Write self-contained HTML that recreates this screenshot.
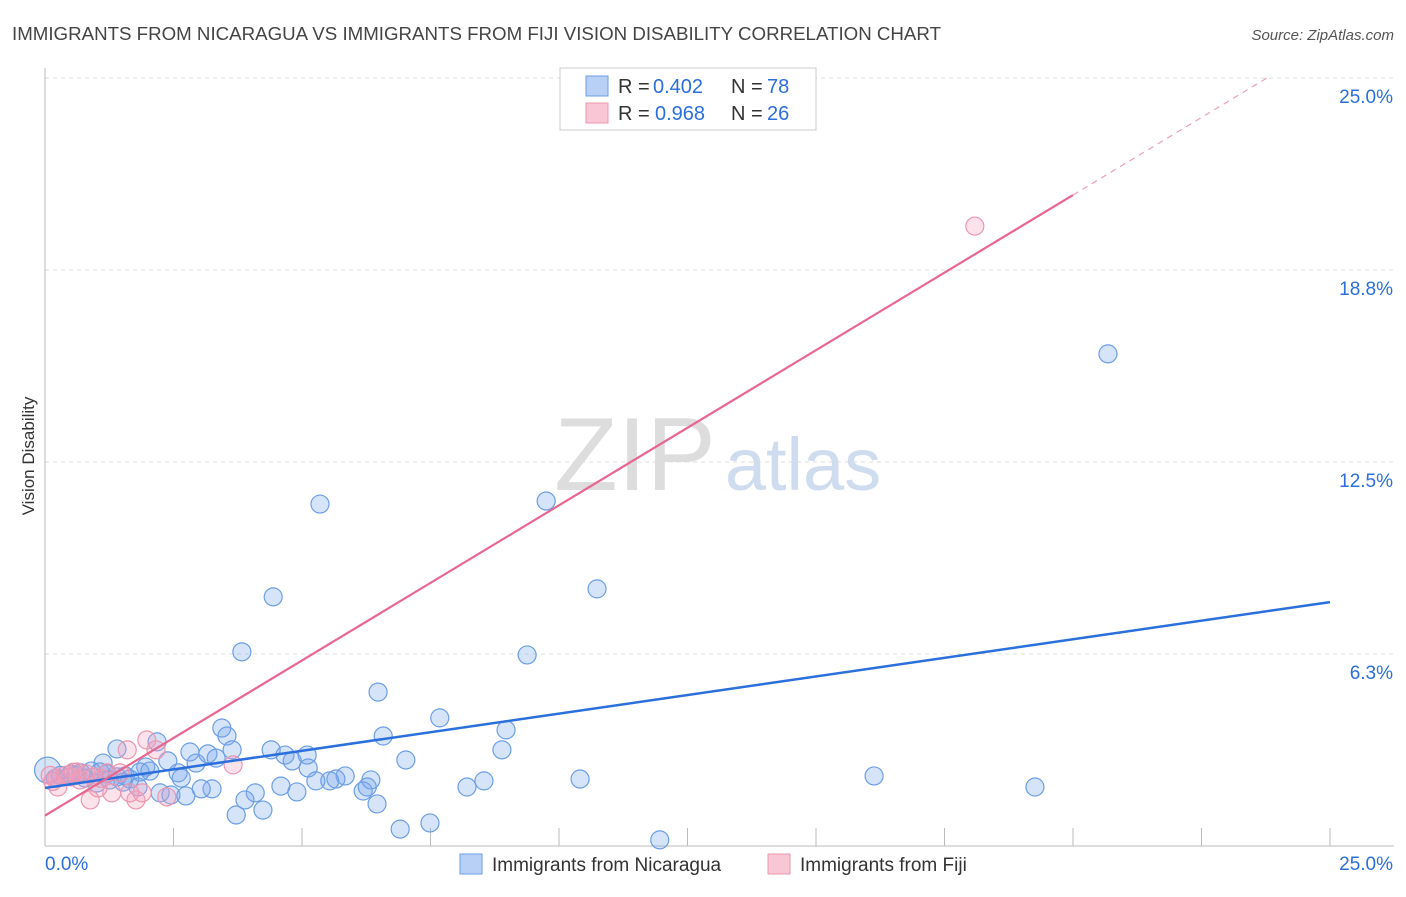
<!DOCTYPE html>
<html><head><meta charset="utf-8"><style>
body{margin:0;background:#fff;font-family:"Liberation Sans",sans-serif}
svg text{font-family:"Liberation Sans",sans-serif}
</style></head><body>
<svg id="chart" width="1406" height="892" xmlns="http://www.w3.org/2000/svg">
<text x="12" y="40" font-size="18" fill="#444" textLength="929" lengthAdjust="spacingAndGlyphs">IMMIGRANTS FROM NICARAGUA VS IMMIGRANTS FROM FIJI VISION DISABILITY CORRELATION CHART</text>
<text x="1394" y="40" font-size="15" fill="#555" text-anchor="end" font-style="italic">Source: ZipAtlas.com</text>
<text transform="translate(34,456) rotate(-90)" font-size="17" fill="#333" text-anchor="middle">Vision Disability</text>
<g>
<text x="635" y="490" font-size="104" fill="#ddd" font-family="Liberation Serif,serif" text-anchor="middle">ZIP</text>
<text x="803" y="490" font-size="74" fill="#cfdcf0" text-anchor="middle">atlas</text>
</g>
<g id="grid"></g><g id="axes"></g><g id="pts"></g><g id="lines"></g>
<g>
<rect x="560" y="68" width="256" height="62" fill="#fff" stroke="#ccc"/>
<rect x="586" y="76" width="22" height="20" fill="#b8d0f5" stroke="#6c9ee4"/>
<text x="618" y="93" font-size="20" fill="#333">R =</text><text x="653" y="93" font-size="20" fill="#2a6fdb">0.402</text>
<text x="731" y="93" font-size="20" fill="#333">N =</text><text x="767" y="93" font-size="20" fill="#2a6fdb">78</text>
<rect x="586" y="103" width="22" height="20" fill="#f9c6d5" stroke="#ec97b0"/>
<text x="618" y="120" font-size="20" fill="#333">R =</text><text x="655" y="120" font-size="20" fill="#2a6fdb">0.968</text>
<text x="731" y="120" font-size="20" fill="#333">N =</text><text x="767" y="120" font-size="20" fill="#2a6fdb">26</text>
</g>
<g>
<rect x="460" y="854" width="22" height="20" fill="#b8d0f5" stroke="#6c9ee4"/>
<text x="492" y="871" font-size="19" fill="#333">Immigrants from Nicaragua</text>
<rect x="768" y="854" width="22" height="20" fill="#f9c6d5" stroke="#ec97b0"/>
<text x="800" y="871" font-size="19" fill="#333">Immigrants from Fiji</text>
</g>
</svg>
<script>
const yTicks=[6.25,12.5,18.75,25];
const yTickLabels=["6.3%","12.5%","18.8%","25.0%"];
const xTickLabels=["0.0%","25.0%"];
const blueX=[5.35,9.75,4.44,10.74,3.83,9.38,20.68,6.48,7.68,3.44,6.58,8.97,3.54,2.18,1.40,8.89,4.40,3.64,2.82,3.17,4.67,5.10,3.33,2.39,2.94,4.81,7.02,1.13,1.96,5.12,2.59,2.65,5.84,5.66,5.54,5.27,6.34,8.54,10.41,16.13,4.59,8.21,6.19,6.27,19.26,4.09,3.25,3.04,2.24,2.45,2.74,4.90,3.89,6.46,4.24,3.72,6.91,7.49,11.96,0.3,0.5,0.7,0.9,1.07,1.26,1.56,1.65,1.85,2.04,1.01,1.52,1.81,0.78,0.2,0.6,1.2,1.4,0.05];
const blueY=[11.13,11.23,8.11,8.37,6.32,6.22,16.02,5.01,4.17,3.84,3.58,3.78,3.58,3.39,3.16,3.13,3.13,3.13,3.06,3.0,2.96,2.96,2.86,2.77,2.70,2.77,2.80,2.70,2.57,2.54,2.38,2.21,2.28,2.18,2.12,2.12,2.15,2.12,2.18,2.28,1.95,1.92,1.79,1.92,1.92,1.73,1.86,1.86,1.73,1.66,1.63,1.76,1.50,1.37,1.17,1.01,0.55,0.75,0.20,2.3,2.34,2.38,2.44,2.41,2.15,2.28,2.18,2.41,2.44,2.05,2.08,1.92,2.21,2.2,2.3,2.35,2.25,2.47];
const pinkX=[18.09,1.98,1.60,2.16,3.66,0.88,2.37,1.77,1.30,1.89,0.49,0.23,0.62,1.21,1.46,1.65,1.03,0.25,0.68,0.1,0.4,1.1,0.8,0.15,0.55,0.95];
const pinkY=[20.18,3.45,3.13,3.13,2.64,1.50,1.60,1.50,1.73,1.73,2.25,2.21,2.41,2.38,2.38,1.73,1.89,1.92,2.15,2.3,2.3,2.2,2.35,2.1,2.4,2.25];
const blueLine=[1.89,7.94];
const pinkLine=[0.99,1.01];
const NS="http://www.w3.org/2000/svg";
const X=v=>45+v*1285/25, Y=v=>846-v*768/25;
function mk(t,a,p){const e=document.createElementNS(NS,t);for(const k in a)e.setAttribute(k,a[k]);p.appendChild(e);return e;}
const grid=document.getElementById('grid'),axes=document.getElementById('axes'),pts=document.getElementById('pts'),lines=document.getElementById('lines');
yTicks.forEach((t,i)=>{
 const l=mk('line',{x1:45,x2:1394,y1:Y(t),y2:Y(t),stroke:'#ddd','stroke-dasharray':'4,4'},grid);
 
 
 const tx=mk('text',{x:1393,y:Y(t)+25,'font-size':19,fill:'#2a6fdb','text-anchor':'end'},grid);
 tx.textContent=yTickLabels[i];
 
 
});
const ya=mk('line',{x1:45,x2:45,y1:68,y2:846,stroke:'#bbb'},axes);


const xa=mk('line',{x1:45,x2:1394,y1:846,y2:846,stroke:'#bbb'},axes);


for(let i=1;i<=10;i++){const tk=mk('line',{x1:X(i*2.5),x2:X(i*2.5),y1:828,y2:846,stroke:'#bbb'},axes);
 
 }
const xl0=mk('text',{x:45,y:870,'font-size':19,fill:'#2a6fdb'},axes);xl0.textContent=xTickLabels[0];


const xl1=mk('text',{x:1393,y:870,'font-size':19,fill:'#2a6fdb','text-anchor':'end'},axes);xl1.textContent=xTickLabels[1];


blueX.forEach((x,i)=>{const c=mk('circle',{cx:X(x),cy:Y(blueY[i]),r:i==blueX.length-1?13:9,fill:'rgba(120,165,235,0.3)',stroke:'#6c9ee4','stroke-width':1.2},pts);
 
 });
pinkX.forEach((x,i)=>{const c=mk('circle',{cx:X(x),cy:Y(pinkY[i]),r:9,fill:'rgba(245,160,190,0.3)',stroke:'#ec97b0','stroke-width':1.2},pts);
 
 });
const bl=mk('line',{x1:X(0),y1:Y(blueLine[0]),x2:X(25),y2:Y(blueLine[1]),stroke:'#2a6fdb','stroke-width':2.5},lines);


const xe=20,xd=(25-pinkLine[0])/pinkLine[1];
const pl=mk('line',{x1:X(0),y1:Y(pinkLine[0]),x2:X(xe),y2:Y(pinkLine[0]+pinkLine[1]*xe),stroke:'#e8668f','stroke-width':2.2},lines);


const pd=mk('line',{x1:X(xe),y1:Y(pinkLine[0]+pinkLine[1]*xe),x2:X(xd),y2:Y(25),stroke:'#eca0b8','stroke-width':1.2,'stroke-dasharray':'6,5'},lines);


</script>
</body></html>
